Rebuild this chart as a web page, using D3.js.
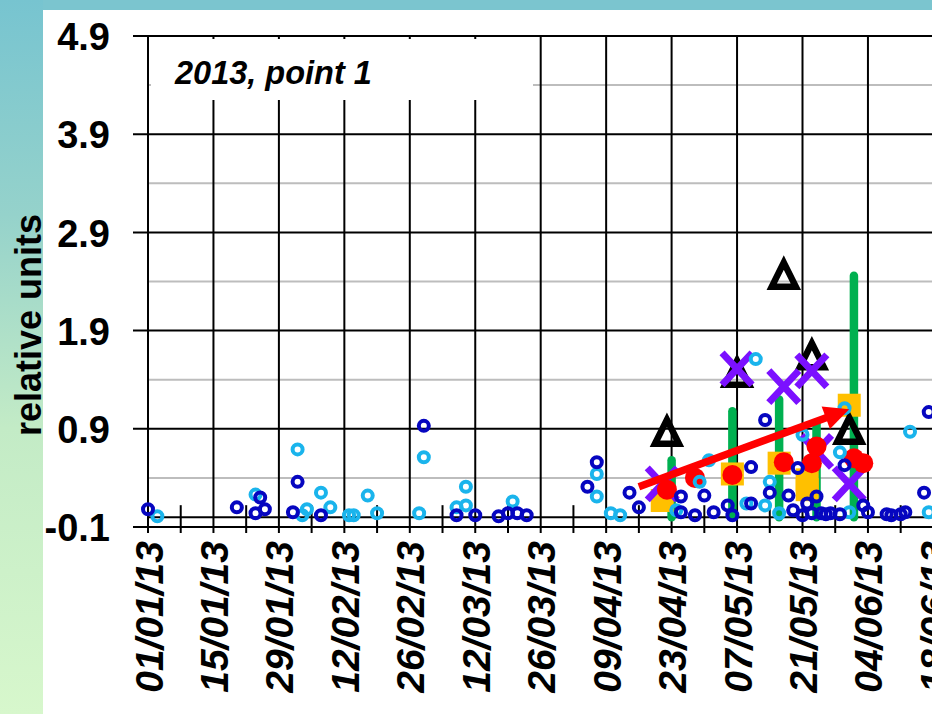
<!DOCTYPE html>
<html>
<head>
<meta charset="utf-8">
<script src="https://cdn.jsdelivr.net/npm/d3@7"></script>
<style>
  html, body { margin: 0; padding: 0; background: #fff; overflow: hidden; }
  svg { display: block; }
</style>
</head>
<body>
<svg id="chart" width="932" height="714"></svg>
<script>
// ---- data -------------------------------------------------------------
const tickDates  = ["2013-01-01","2013-01-15","2013-01-29","2013-02-12","2013-02-26","2013-03-12",
                    "2013-03-26","2013-04-09","2013-04-23","2013-05-07","2013-05-21","2013-06-04","2013-06-18"];
const tickLabels = ["01/01/13","15/01/13","29/01/13","12/02/13","26/02/13","12/03/13",
                    "26/03/13","09/04/13","23/04/13","07/05/13","21/05/13","04/06/13","18/06/13"];
const yTicks = [-0.1, 0.9, 1.9, 2.9, 3.9, 4.9];
const yMinor = [0.4, 1.4, 2.4, 3.4, 4.4];

// dark blue open circles
const darkDates = ["2013-01-01","2013-01-20","2013-01-24","2013-01-25","2013-01-26","2013-02-01","2013-02-02",
  "2013-02-07","2013-03-01","2013-03-08","2013-03-12","2013-03-17","2013-03-19","2013-03-21","2013-03-23",
  "2013-04-05","2013-04-07","2013-04-14","2013-04-16","2013-04-25","2013-04-25","2013-04-28","2013-04-30",
  "2013-05-02","2013-05-05","2013-05-06","2013-05-10","2013-05-10","2013-05-13","2013-05-14","2013-05-18",
  "2013-05-19","2013-05-20","2013-05-21","2013-05-22","2013-05-23","2013-05-24","2013-05-25","2013-05-26",
  "2013-05-27","2013-05-29","2013-05-30","2013-06-03","2013-06-04","2013-06-08","2013-06-09","2013-06-11",
  "2013-06-12","2013-06-16","2013-06-17"];
const darkValues = [0.08,0.10,0.04,0.20,0.08,0.05,0.36,
  0.02,0.93,0.02,0.02,0.01,0.04,0.04,0.02,
  0.31,0.56,0.25,0.10,0.21,0.05,0.02,0.22,
  0.05,0.12,0.02,0.14,0.51,0.99,0.25,0.22,
  0.07,0.50,0.02,0.14,0.04,0.21,0.04,0.03,
  0.04,0.03,0.53,0.12,0.05,0.03,0.02,0.03,
  0.05,0.25,1.07];

// light blue open circles
const lightDates = ["2013-01-03","2013-01-24","2013-02-02","2013-02-03","2013-02-04","2013-02-07","2013-02-09",
  "2013-02-13","2013-02-14","2013-02-17","2013-02-19","2013-02-28","2013-03-01","2013-03-08","2013-03-10",
  "2013-03-10","2013-03-20","2013-04-07","2013-04-07","2013-04-10","2013-04-12","2013-04-24","2013-04-29",
  "2013-05-01","2013-05-09","2013-05-11","2013-05-13","2013-05-14","2013-05-16","2013-05-21","2013-05-29",
  "2013-05-30","2013-05-31","2013-06-13","2013-06-17"];
const lightValues = [0.01,0.23,0.69,0.02,0.08,0.25,0.10,
  0.02,0.02,0.22,0.04,0.04,0.61,0.10,0.12,
  0.31,0.16,0.44,0.21,0.04,0.02,0.07,0.36,
  0.58,0.14,1.61,0.12,0.36,0.04,0.84,0.66,
  1.11,0.05,0.87,0.05];

// red filled circles
const redDates  = ["2013-04-22","2013-04-28","2013-05-06","2013-05-17","2013-05-23","2013-05-24","2013-06-01","2013-06-03"];
const redValues = [0.28,0.40,0.43,0.56,0.55,0.72,0.60,0.55];

// orange squares
const orangeDates  = ["2013-04-21","2013-05-06","2013-05-16","2013-05-22","2013-05-22","2013-05-31"];
const orangeValues = [0.17,0.44,0.55,0.38,0.28,1.14];

// green columns
const greenDates  = ["2013-04-23","2013-05-06","2013-05-16","2013-05-24","2013-06-01"];
const greenValues = [0.62,1.12,1.24,1.00,2.50];

// purple crosses
const purpleDates  = ["2013-04-21","2013-05-07","2013-05-17","2013-05-23","2013-05-24","2013-05-31"];
const purpleValues = [0.34,1.51,1.33,1.49,0.67,0.34];

// black open triangles
const triDates  = ["2013-04-22","2013-05-07","2013-05-17","2013-05-23","2013-05-31"];
const triValues = [0.87,1.47,2.47,1.65,0.89];

// trend arrow (start, end)
const arrowDates  = ["2013-04-16","2013-05-31"];
const arrowValues = [0.31,1.10];

// ---- setup ------------------------------------------------------------
const W = 932, H = 714;
const parse = d3.utcParse("%Y-%m-%d");
const start = parse("2013-01-01");
const svg = d3.select("#chart");
const FONT = "'Liberation Sans', Arial, Helvetica, sans-serif";

const x = d3.scaleUtc()
  .domain([start, d3.utcDay.offset(start, 182)])
  .range([148, 148 + 182 * 4.675]);
const y = d3.scaleLinear().domain([-0.1, 4.9]).range([527, 36]);

const zip = (ds, vs) => ds.map((d, i) => ({ date: parse(d), value: vs[i] }));

// ---- backdrop ---------------------------------------------------------
const defs = svg.append("defs");
const grad = defs.append("linearGradient").attr("id", "side").attr("x1", 0).attr("y1", 0).attr("x2", 0).attr("y2", 1);
grad.append("stop").attr("offset", "0").attr("stop-color", "#77c4d0");
grad.append("stop").attr("offset", "0.3").attr("stop-color", "#95d2cb");
grad.append("stop").attr("offset", "0.6").attr("stop-color", "#c3ebc6");
grad.append("stop").attr("offset", "1").attr("stop-color", "#d7f7cc");
svg.append("rect").attr("width", W).attr("height", H).attr("fill", "url(#side)");
svg.append("rect").attr("x", 43).attr("width", W - 43).attr("height", 10).attr("fill", "#7bc5cf");
svg.append("rect").attr("x", 43).attr("y", 10).attr("width", W - 43).attr("height", H - 10).attr("fill", "#fff");

const plot = svg.append("g");

// ---- grid -------------------------------------------------------------
plot.selectAll("line.minor").data(yMinor).join("line")
  .attr("x1", 148).attr("x2", W).attr("y1", d => y(d)).attr("y2", d => y(d))
  .attr("stroke", "#bdbdbd").attr("stroke-width", 2);

plot.selectAll("line.major").data(yTicks).join("line")
  .attr("x1", 133).attr("x2", W).attr("y1", d => y(d)).attr("y2", d => y(d))
  .attr("stroke", "#000").attr("stroke-width", 2);

// weekly ticks: fortnightly ones run the full height, the others only cross the zero line
const weeks = d3.range(0, 183, 7).map(k => d3.utcDay.offset(start, k));
plot.selectAll("line.week").data(weeks).join("line")
  .attr("x1", d => x(d)).attr("x2", d => x(d))
  .attr("y1", (d, i) => i % 2 === 0 ? y(4.9) : y(0) - 12)
  .attr("y2", y(-0.1) + 6)
  .attr("stroke", "#000").attr("stroke-width", 2);

// zero line
plot.append("line").attr("x1", 148).attr("x2", W).attr("y1", y(0)).attr("y2", y(0))
  .attr("stroke", "#000").attr("stroke-width", 2);

// caption box
plot.append("rect").attr("x", 151).attr("y", 39).attr("width", 382).attr("height", 61).attr("fill", "#fff");
plot.append("text").attr("x", 175).attr("y", 84)
  .attr("font-family", FONT).attr("font-weight", "bold").attr("font-style", "italic")
  .attr("font-size", 32.5).text("2013, point 1");

// ---- axes labels --------------------------------------------------------
const yAxis = d3.axisLeft(y).tickValues(yTicks).tickSize(0).tickPadding(0).tickFormat(d => d.toFixed(1));
const gy = svg.append("g").attr("transform", "translate(110,0)").call(yAxis);
gy.select(".domain").remove();
gy.selectAll("text").attr("font-family", FONT).attr("font-weight", "bold")
  .attr("font-size", 38).attr("fill", "#000").attr("x", 0).attr("dy", "0.36em");

const xAxis = d3.axisBottom(x).tickValues(tickDates.map(parse)).tickSize(0)
  .tickFormat((d, i) => tickLabels[i]);
const gx = svg.append("g").attr("transform", `translate(0,${y(-0.1)})`).call(xAxis);
gx.select(".domain").remove();
gx.selectAll("text")
  .attr("font-family", FONT).attr("font-weight", "bold").attr("font-style", "italic")
  .attr("font-size", 39).attr("fill", "#000")
  .attr("transform", "rotate(-90)").attr("text-anchor", "end")
  .attr("x", -14).attr("y", 0).attr("dy", "0.36em");

svg.append("text")
  .attr("transform", "translate(41,325) rotate(-90)")
  .attr("text-anchor", "middle")
  .attr("font-family", FONT).attr("font-weight", "bold").attr("font-size", 36)
  .text("relative units");

// ---- marks ------------------------------------------------------------
const marks = svg.append("g");

marks.selectAll("line.green").data(zip(greenDates, greenValues)).join("line")
  .attr("x1", d => x(d.date)).attr("x2", d => x(d.date))
  .attr("y1", y(0)).attr("y2", d => y(d.value) + 4)
  .attr("stroke", "#00b050").attr("stroke-width", 8.5).attr("stroke-linecap", "round");

marks.selectAll("rect.orange").data(zip(orangeDates, orangeValues)).join("rect")
  .attr("x", d => x(d.date) - 11.5).attr("y", d => y(d.value) - 11.5)
  .attr("width", 23).attr("height", 23).attr("fill", "#ffc000");

marks.selectAll("path.tri").data(zip(triDates, triValues)).join("path")
  .attr("transform", d => `translate(${x(d.date)},${y(d.value)})`)
  .attr("d", "M0,-12L12,12L-12,12Z")
  .attr("fill", "none").attr("stroke", "#000").attr("stroke-width", 6.5);

marks.selectAll("path.cross").data(zip(purpleDates, purpleValues)).join("path")
  .attr("transform", d => `translate(${x(d.date)},${y(d.value)})`)
  .attr("d", "M-15,-16L15,16M-15,16L15,-16")
  .attr("fill", "none").attr("stroke", "#7b10ff").attr("stroke-width", 7);

marks.selectAll("circle.red").data(zip(redDates, redValues)).join("circle")
  .attr("cx", d => x(d.date)).attr("cy", d => y(d.value)).attr("r", 10)
  .attr("fill", "#ff0000");

marks.selectAll("circle.light").data(zip(lightDates, lightValues)).join("circle")
  .attr("cx", d => x(d.date)).attr("cy", d => y(d.value)).attr("r", 5)
  .attr("fill", "none").attr("stroke", "#1ab4ec").attr("stroke-width", 4);

marks.selectAll("circle.dark").data(zip(darkDates, darkValues)).join("circle")
  .attr("cx", d => x(d.date)).attr("cy", d => y(d.value)).attr("r", 5)
  .attr("fill", "none").attr("stroke", "#0606c0").attr("stroke-width", 4);

// trend arrow
const a0 = [x(parse(arrowDates[0])), y(arrowValues[0])];
const a1 = [x(parse(arrowDates[1])), y(arrowValues[1])];
const ang = Math.atan2(a1[1] - a0[1], a1[0] - a0[0]);
const headLen = 25, headHalf = 12;
const base = [a1[0] - headLen * Math.cos(ang), a1[1] - headLen * Math.sin(ang)];
marks.append("line")
  .attr("x1", a0[0]).attr("y1", a0[1]).attr("x2", base[0] + 4 * Math.cos(ang)).attr("y2", base[1] + 4 * Math.sin(ang))
  .attr("stroke", "#ff0000").attr("stroke-width", 7.5);
marks.append("path")
  .attr("d", d3.line()([
    a1,
    [base[0] + headHalf * Math.sin(ang), base[1] - headHalf * Math.cos(ang)],
    [base[0] - headHalf * Math.sin(ang), base[1] + headHalf * Math.cos(ang)]
  ]) + "Z")
  .attr("fill", "#ff0000");
</script>
</body>
</html>
